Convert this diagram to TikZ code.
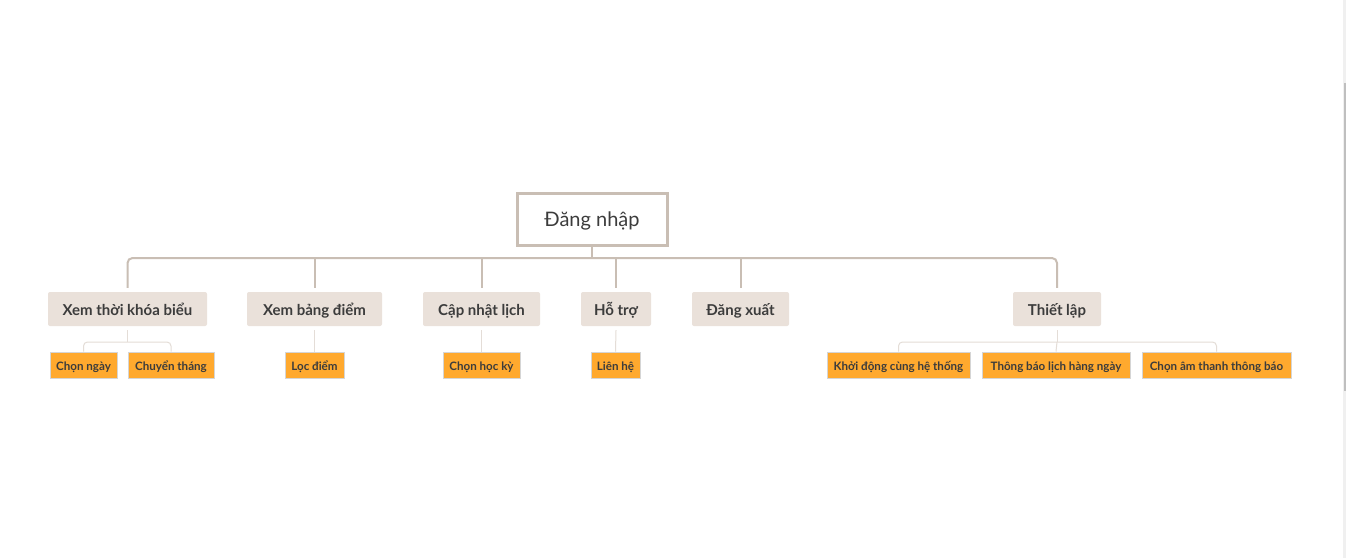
\documentclass[tikz,border=0pt]{standalone}
\usepackage{fontspec}
\setmainfont{Lato}
\definecolor{txt}{HTML}{3C3C3C}
\definecolor{busc}{HTML}{C9BEB4}
\definecolor{subc}{HTML}{E4DDD7}
\definecolor{lonefill}{HTML}{EAE1DA}
\definecolor{ltwofill}{HTML}{FFA92E}
\definecolor{ltwoedge}{HTML}{D5D5D5}
\tikzset{
  rootbox/.style={draw=busc, line width=3pt, fill=white, inner sep=0pt, minimum height=52pt, text=txt, font=\fontsize{20}{22}\selectfont, text height=16.5pt, text depth=2pt},
  lone/.style={fill=lonefill, rounded corners=2pt, inner sep=0pt, minimum height=34pt, text=txt, font=\fontsize{15}{17}\selectfont\bfseries, text height=14pt, text depth=1pt},
  ltwo/.style={fill=ltwofill, draw=ltwoedge, line width=1pt, inner sep=0pt, minimum height=26pt, text=txt, font=\fontsize{11.6}{13}\selectfont\bfseries, text height=11pt, text depth=1pt},
  bus/.style={draw=busc, line width=2pt},
  sub/.style={draw=subc, line width=1pt}
}
\begin{document}
\begin{tikzpicture}[x=1pt,y=-1pt]
\useasboundingbox (0,0) rectangle (1346,558);
\fill[white] (0,0) rectangle (1346,558);
\fill[black!6] (1343,0) rectangle (1346,558);
\fill[black!25] (1344,83) rectangle (1346,391);

\node[rootbox, minimum width=150pt] (root) at (592,219) {Đăng nhập};

\node[lone, minimum width=159pt] (a) at (127.5,309) {Xem thời khóa biểu};
\node[lone, minimum width=135pt] (b) at (314.5,309) {Xem bảng điểm};
\node[lone, minimum width=117pt] (c) at (481.5,309) {Cập nhật lịch};
\node[lone, minimum width=70pt] (d) at (616,309) {Hỗ trợ};
\node[lone, minimum width=97pt] (e) at (740.5,309) {Đăng xuất};
\node[lone, minimum width=88pt] (f) at (1057,309) {Thiết lập};

\node[ltwo, minimum width=67pt] (a1) at (83.5,365) {Chọn ngày};
\node[ltwo, minimum width=86pt] (a2) at (171,365) {Chuyển tháng};
\node[ltwo, minimum width=59pt] (b1) at (314.5,365) {Lọc điểm};
\node[ltwo, minimum width=77pt] (c1) at (481.5,365) {Chọn học kỳ};
\node[ltwo, minimum width=49pt] (d1) at (615.5,365) {Liên hệ};
\node[ltwo, minimum width=143pt] (f1) at (898.5,365) {Khởi động cùng hệ thống};
\node[ltwo, minimum width=148pt] (f2) at (1056,365) {Thông báo lịch hàng ngày};
\node[ltwo, minimum width=149pt] (f3) at (1216.5,365) {Chọn âm thanh thông báo};

\coordinate (j) at (592,258);
\draw[bus] (root.south) -- (j);
\draw[bus, rounded corners=5pt] ([yshift=4pt]a.north) |- (j) -| ([yshift=4pt]f.north);
\draw[bus] ([yshift=4pt]b.north) -- (b.north|-j);
\draw[bus] ([yshift=4pt]c.north) -- (c.north|-j);
\draw[bus] ([yshift=4pt]d.north) -- (d.north|-j);
\draw[bus] ([yshift=4pt]e.north) -- (e.north|-j);

\coordinate (aj) at (127.5,342);
\coordinate (fj) at (1057,342);
\draw[sub] ([yshift=-4pt]a.south) -- (aj);
\draw[sub, rounded corners=4pt] (a1.north) |- (aj) -| (a2.north);
\draw[sub] ([yshift=-4pt]f.south) -- (fj);
\draw[sub, rounded corners=4pt] (f1.north) |- (fj) -| (f3.north);
\draw[sub] (fj) -- (f2.north);
\draw[sub] ([yshift=-4pt]b.south) -- (b1.north);
\draw[sub] ([yshift=-4pt]c.south) -- (c1.north);
\draw[sub] ([yshift=-4pt]d.south) -- (d1.north);
\end{tikzpicture}
\end{document}
